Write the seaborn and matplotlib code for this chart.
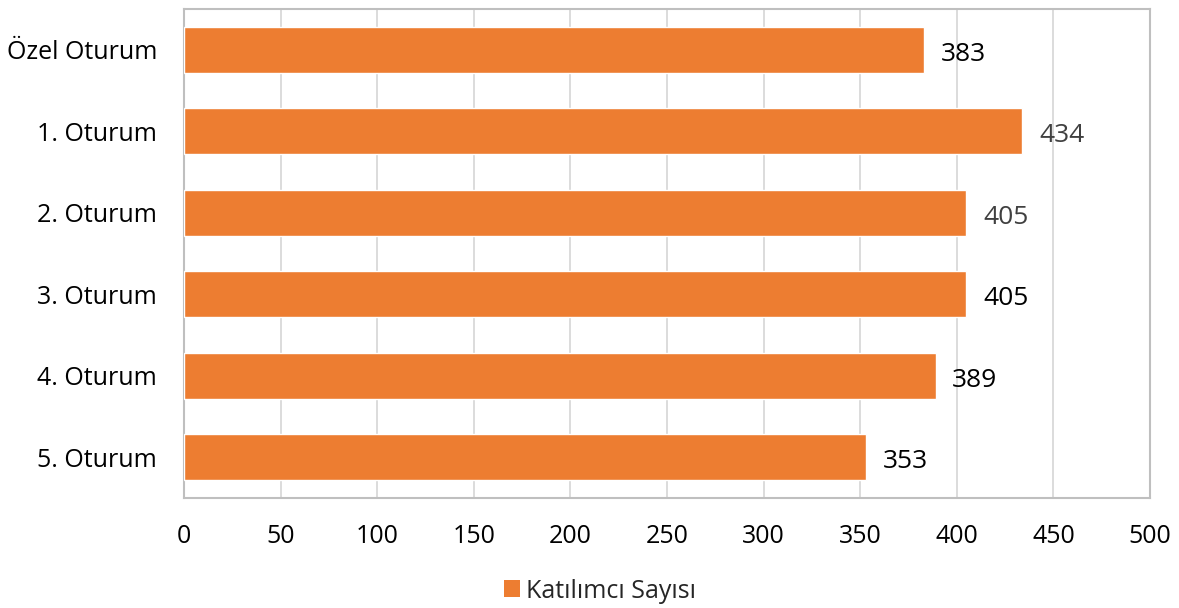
import matplotlib
matplotlib.use("Agg")
import matplotlib.pyplot as plt
import seaborn as sns
import pandas as pd
from matplotlib.patches import Patch

categories = ["Özel Oturum", "1. Oturum", "2. Oturum", "3. Oturum", "4. Oturum", "5. Oturum"]
values = [383, 434, 405, 405, 389, 353]
label_colors = ["#000000", "#404040", "#404040", "#000000", "#000000", "#000000"]
series_name = "Katılımcı Sayısı"
x_ticks = [0, 50, 100, 150, 200, 250, 300, 350, 400, 450, 500]

df = pd.DataFrame({"Oturum": categories, series_name: values})

sns.set_theme(style="white")
plt.rcParams["font.family"] = ["Open Sans", "DejaVu Sans"]

bar_color = "#ED7D31"
fig = plt.figure(figsize=(11.79, 6.08), dpi=100)
ax = fig.add_axes([184 / 1179, 1 - 498 / 608, (1150 - 184) / 1179, (498 - 9) / 608])

sns.barplot(data=df, y="Oturum", x=series_name, orient="h", color=bar_color,
            saturation=1, width=0.56, ax=ax, zorder=3)

ax.set_xlim(0, 500)
ax.set_ylim(5.5, -0.5)
ax.set_xticks(x_ticks)
ax.set_xticklabels([str(t) for t in x_ticks])
ax.set_xlabel("")
ax.set_ylabel("")
ax.xaxis.grid(True, color="#d9d9d9", linewidth=1.3, zorder=0)
ax.yaxis.grid(False)
ax.set_axisbelow(True)
for s in ax.spines.values():
    s.set_visible(True)
    s.set_color("#bfbfbf")
    s.set_linewidth(1.5)
ax.tick_params(axis="both", length=0, labelsize=18, colors="#000000")
ax.tick_params(axis="x", pad=19)
ax.tick_params(axis="y", pad=19.5)

for i, (v, c) in enumerate(zip(values, label_colors)):
    ax.annotate(str(v), xy=(v, i), xytext=(12, -8), textcoords="offset points",
                ha="left", va="baseline", fontsize=19, color=c)

handle = Patch(facecolor=bar_color, edgecolor="none")
fig.legend([handle], [series_name], loc="center", bbox_to_anchor=(600 / 1179, 1 - 591 / 608),
           frameon=False, fontsize=18, handlelength=0.65, handleheight=0.65, handletextpad=0.25)

fig.savefig("out.png", dpi=100)
